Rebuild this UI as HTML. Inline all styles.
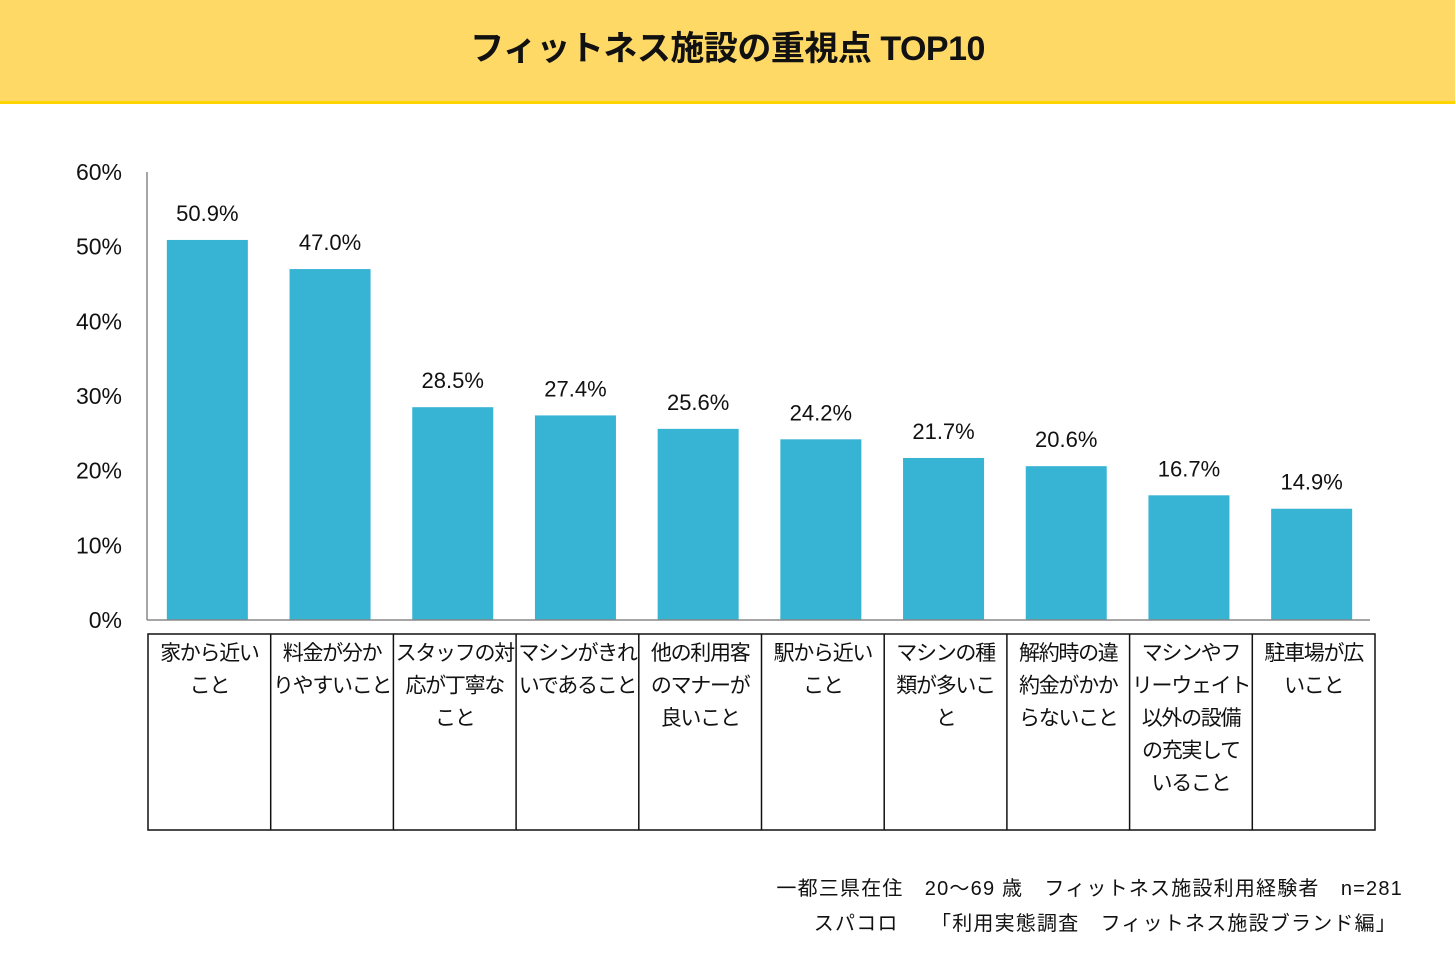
<!DOCTYPE html>
<html><head><meta charset="utf-8"><style>
body{margin:0;width:1455px;height:970px;background:#fff;position:relative;overflow:hidden;font-family:"Liberation Sans","Noto Sans CJK JP",sans-serif;color:#111}
#hdr{position:absolute;left:0;top:0;width:1455px;height:101px;background:#FFD966;border-bottom:3px solid #FFD400}
#title{position:absolute;left:0;top:0;width:1455px;text-align:center;line-height:98px;font-size:34px;font-weight:bold;letter-spacing:-0.5px}
.foot{position:absolute;font-size:20px;white-space:pre;letter-spacing:1.2px}
</style></head><body>
<div id="hdr"></div>
<div id="title">フィットネス施設の重視点 TOP10</div>
<svg id="chart" width="1455" height="970" style="position:absolute;left:0;top:0"></svg>
<div class="foot" style="right:52px;top:872px">一都三県在住　20～69 歳　フィットネス施設利用経験者　n=281</div>
<div class="foot" style="right:58px;top:907px">スパコロ　　「利用実態調査　フィットネス施設ブランド編」</div>
<script>
const categories=[["家から近い","こと"],["料金が分か","りやすいこと"],["スタッフの対","応が丁寧な","こと"],["マシンがきれ","いであること"],["他の利用客","のマナーが","良いこと"],["駅から近い","こと"],["マシンの種","類が多いこ","と"],["解約時の違","約金がかか","らないこと"],["マシンやフ","リーウェイト","以外の設備","の充実して","いること"],["駐車場が広","いこと"]];
const values=[50.9,47.0,28.5,27.4,25.6,24.2,21.7,20.6,16.7,14.9];
const ticks=[0,10,20,30,40,50,60];
const NS="http://www.w3.org/2000/svg",svg=document.getElementById('chart');
const y0=620,ppu=448/60,x0=148,colW=122.7,barW=81;
const y=v=>y0-v*ppu;
function mk(t,a,txt){const e=document.createElementNS(NS,t);for(const k in a)e.setAttribute(k,a[k]);if(txt!=null)e.textContent=txt;svg.appendChild(e);return e;}
ticks.forEach(t=>{const e=mk('text',{x:122,y:y(t)+8,'text-anchor':'end','font-size':23,fill:'#111'},t+'%');

});
values.forEach((v,i)=>{const cx=x0+colW*(i+0.5)-2;
const r=mk('rect',{x:cx-barW/2,y:y(v),width:barW,height:y0-y(v),fill:'#37B3D3'});


const l=mk('text',{x:cx,y:y(v)-19,'text-anchor':'middle','font-size':22,fill:'#111'},v.toFixed(1)+'%');


categories[i].forEach((s,j)=>{const c=mk('text',{x:x0+colW*(i+0.5),y:660+j*32.5,'text-anchor':'middle','font-size':21,'letter-spacing':'-1.3',fill:'#111'},s);

});});
const ax=mk('line',{x1:147,y1:172,x2:147,y2:620,stroke:'#888','stroke-width':1.5});


const bx=mk('line',{x1:147,y1:620,x2:1370,y2:620,stroke:'#888','stroke-width':1.5});


const tb=mk('rect',{x:148,y:634,width:colW*10,height:196,fill:'none',stroke:'#111','stroke-width':1.5});


for(let i=1;i<10;i++){const d=mk('line',{x1:x0+colW*i,y1:634,x2:x0+colW*i,y2:830,stroke:'#111','stroke-width':1.5});

}
</script>
</body></html>
